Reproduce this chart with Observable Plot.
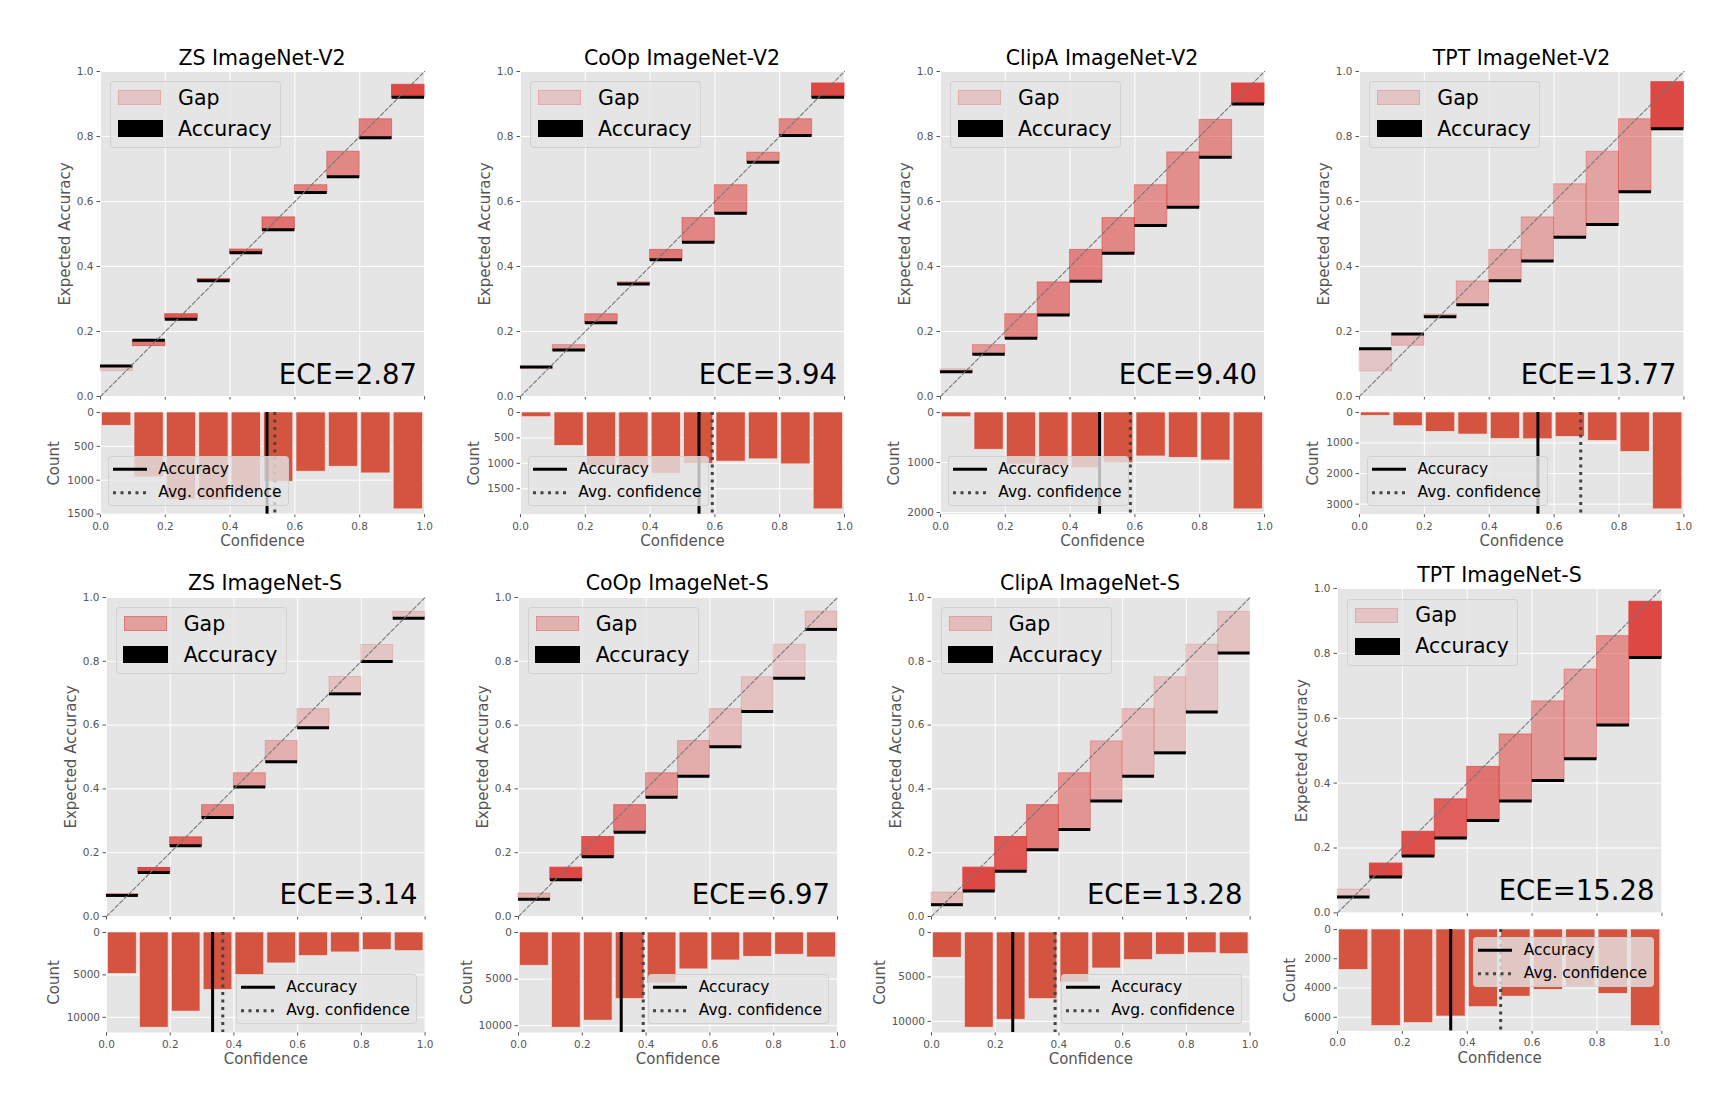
<!DOCTYPE html>
<html>
<head>
<meta charset="utf-8">
<script src="https://cdn.jsdelivr.net/npm/d3@7"></script>
<script src="https://cdn.jsdelivr.net/npm/@observablehq/plot@0.6"></script>
<style>
  body { margin: 0; background: #fff; }
  #fig { position: relative; width: 1736px; height: 1106px; background: #fff; overflow: hidden;
         font-family: "DejaVu Sans", sans-serif; }
  .title { position: absolute; width: 400px; text-align: center; font-size: 20.5px; line-height: 24px; color: #000; white-space: nowrap; }
  .leg { position: absolute; box-sizing: border-box; background: rgba(229,229,229,0.8);
         border: 1px solid rgba(204,204,204,0.8); border-radius: 4px; }
  .lt20 { position: absolute; font-size: 20.5px; line-height: 26px; color: #000; white-space: nowrap; }
  .lt15 { position: absolute; font-size: 15.5px; line-height: 23px; color: #000; white-space: nowrap; }
</style>
</head>
<body>
<div id="fig"></div>
<script>
// ---------------- data ----------------
const titles = ["ZS ImageNet-V2", "CoOp ImageNet-V2", "ClipA ImageNet-V2", "TPT ImageNet-V2",
                "ZS ImageNet-S", "CoOp ImageNet-S", "ClipA ImageNet-S", "TPT ImageNet-S"];
const eceValues = ["2.87", "3.94", "9.40", "13.77", "3.14", "6.97", "13.28", "15.28"];
const avgAccuracy   = [0.514, 0.551, 0.491, 0.550, 0.333, 0.322, 0.255, 0.349];
const avgConfidence = [0.538, 0.592, 0.586, 0.682, 0.365, 0.391, 0.388, 0.503];
const binEdges = [0, 0.1, 0.2, 0.3, 0.4, 0.5, 0.6, 0.7, 0.8, 0.9, 1.0];
const probTicks = [0, 0.2, 0.4, 0.6, 0.8, 1.0];
const diagonal = [0, 1];
const countTicks = [[0, 500, 1000, 1500], [0, 500, 1000, 1500], [0, 1000, 2000], [0, 1000, 2000, 3000],
                    [0, 5000, 10000], [0, 5000, 10000], [0, 5000, 10000], [0, 2000, 4000, 6000]];

const accZsV2   = [0.094, 0.173, 0.238, 0.356, 0.442, 0.513, 0.628, 0.676, 0.796, 0.921];
const confZsV2  = [0.078, 0.155, 0.253, 0.361, 0.452, 0.551, 0.650, 0.753, 0.853, 0.959];
const countZsV2 = [197, 959, 1290, 1300, 1180, 1023, 875, 802, 900, 1431];

const accCoopV2   = [0.091, 0.143, 0.227, 0.346, 0.421, 0.475, 0.564, 0.721, 0.803, 0.921];
const confCoopV2  = [0.084, 0.158, 0.253, 0.351, 0.451, 0.549, 0.650, 0.750, 0.853, 0.963];
const countCoopV2 = [92, 658, 1050, 1100, 1204, 1010, 967, 921, 1020, 1905];

const accClipaV2   = [0.076, 0.130, 0.179, 0.251, 0.355, 0.441, 0.526, 0.582, 0.736, 0.900];
const confClipaV2  = [0.084, 0.158, 0.253, 0.351, 0.451, 0.549, 0.650, 0.751, 0.851, 0.963];
const countClipaV2 = [94, 745, 1040, 1080, 1114, 1013, 879, 906, 960, 1935];

const accTptV2   = [0.147, 0.192, 0.245, 0.282, 0.356, 0.417, 0.490, 0.529, 0.630, 0.824];
const confTptV2  = [0.077, 0.156, 0.252, 0.354, 0.451, 0.551, 0.653, 0.753, 0.853, 0.967];
const countTptV2 = [110, 449, 635, 723, 865, 876, 799, 931, 1292, 3170];

const accZsS   = [0.066, 0.138, 0.222, 0.310, 0.406, 0.485, 0.592, 0.698, 0.799, 0.935];
const confZsS  = [0.070, 0.152, 0.248, 0.349, 0.449, 0.550, 0.650, 0.751, 0.851, 0.955];
const countZsS = [4900, 11230, 9330, 6780, 5020, 3650, 2780, 2350, 2080, 2200];

const accCoopS   = [0.054, 0.115, 0.187, 0.264, 0.374, 0.440, 0.532, 0.643, 0.747, 0.900];
const confCoopS  = [0.072, 0.153, 0.249, 0.349, 0.449, 0.550, 0.650, 0.750, 0.852, 0.956];
const countCoopS = [3570, 10220, 9460, 7140, 5460, 3960, 3000, 2610, 2390, 2680];

const accClipaS   = [0.037, 0.080, 0.142, 0.209, 0.273, 0.362, 0.440, 0.513, 0.641, 0.826];
const confClipaS  = [0.075, 0.153, 0.249, 0.349, 0.449, 0.549, 0.650, 0.750, 0.852, 0.955];
const countClipaS = [2850, 10720, 9830, 7500, 5620, 4050, 3110, 2510, 2330, 2440];

const accTptS   = [0.049, 0.111, 0.175, 0.231, 0.285, 0.345, 0.408, 0.475, 0.579, 0.787];
const confTptS  = [0.072, 0.152, 0.250, 0.350, 0.450, 0.550, 0.652, 0.750, 0.853, 0.959];
const countTptS = [2770, 6600, 6400, 5950, 5310, 4590, 4130, 3900, 4400, 6600];

const accList   = [accZsV2, accCoopV2, accClipaV2, accTptV2, accZsS, accCoopS, accClipaS, accTptS];
const confList  = [confZsV2, confCoopV2, confClipaV2, confTptV2, confZsS, confCoopS, confClipaS, confTptS];
const countList = [countZsV2, countCoopV2, countClipaV2, countTptV2, countZsS, countCoopS, countClipaS, countTptS];

// ---------------- layout (frame positions in page pixels) ----------------
const layout = [
  {x0: 100,    x1: 424,    t0: 70.7,  t1: 395.7, h0: 412.3, h1: 514,    leg: "ll", countDx: -46, titleUp: 12.4},
  {x0: 520,    x1: 844,    t0: 70.7,  t1: 395.7, h0: 412.3, h1: 514,    leg: "ll", countDx: -46, titleUp: 12.4},
  {x0: 940,    x1: 1264,   t0: 70.7,  t1: 395.7, h0: 412.3, h1: 514,    leg: "ll", countDx: -46, titleUp: 12.4},
  {x0: 1359.3, x1: 1683.7, t0: 70.7,  t1: 395.7, h0: 412.3, h1: 514,    leg: "ll", countDx: -46, titleUp: 12.4},
  {x0: 105.7,  x1: 424.3,  t0: 596.7, t1: 915.7, h0: 931.7, h1: 1031.7, leg: "lr", countDx: -52, titleUp: 13.4},
  {x0: 517.7,  x1: 836.7,  t0: 596.7, t1: 915.7, h0: 931.7, h1: 1031.7, leg: "lr", countDx: -51, titleUp: 13.4},
  {x0: 930.7,  x1: 1249.3, t0: 596.7, t1: 915.7, h0: 931.7, h1: 1031.7, leg: "lr", countDx: -51, titleUp: 13.4},
  {x0: 1337.3, x1: 1661.7, t0: 588.3, t1: 912.7, h0: 929.3, h1: 1030.7, leg: "ur", countDx: -47, titleUp: 13.3}
];

const ML = 64, MR = 12, MT = 12, MB = 12, HMT = 2, HMB = 50;
const GAP_RGB = "222,72,68";
const HIST_COLOR = "#D45440";
const gapColor = a => `rgba(${GAP_RGB},${a.toFixed(3)})`;
const baseStyle = {fontFamily: "DejaVu Sans", fontSize: "10.5px", color: "#555",
                   background: "transparent", overflow: "visible"};

const fig = document.getElementById("fig");

function place(el, left, top) {
  el.style.position = "absolute";
  el.style.left = left + "px";
  el.style.top = top + "px";
  fig.appendChild(el);
}

titles.forEach((title, i) => {
  const L = layout[i];
  const acc = accList[i], conf = confList[i], count = countList[i];
  const cMin = d3.min(count), cMax = d3.max(count);
  const bins = acc.map((a, k) => ({
    lo: binEdges[k], hi: binEdges[k + 1], acc: a, conf: conf[k], count: count[k],
    alpha: 0.2 + 0.8 * (count[k] - cMin) / (cMax - cMin)
  }));
  const fw = L.x1 - L.x0, fh = L.t1 - L.t0, hh = L.h1 - L.h0;

  // ---- reliability diagram ----
  const top = Plot.plot({
    width: fw + ML + MR, height: fh + MT + MB,
    marginLeft: ML, marginRight: MR, marginTop: MT, marginBottom: MB,
    style: baseStyle,
    x: {domain: [0, 1], ticks: probTicks, tickFormat: () => "", tickSize: 3.5, label: null},
    y: {domain: [0, 1], ticks: probTicks, tickFormat: ".1f", tickSize: 3.5, tickPadding: 3.5, label: null},
    marks: [
      Plot.frame({fill: "#E5E5E5", stroke: "none"}),
      Plot.ruleX(probTicks, {stroke: "white", strokeWidth: 1}),
      Plot.ruleY(probTicks, {stroke: "white", strokeWidth: 1}),
      Plot.rect(bins, {x1: "lo", x2: "hi",
        y1: d => Math.min(d.acc, d.conf), y2: d => Math.max(d.acc, d.conf),
        fill: d => gapColor(d.alpha), stroke: d => gapColor(d.alpha), strokeWidth: 1}),
      Plot.ruleY(bins, {x1: "lo", x2: "hi", y: "acc", stroke: "black", strokeWidth: 3}),
      Plot.line(diagonal, {x: d => d, y: d => d, stroke: "#777", strokeWidth: 1.1, strokeDasharray: "4,2.2"}),
      Plot.text([`ECE=${eceValues[i]}`], {text: d => d, frameAnchor: "bottom-right", textAnchor: "end",
        lineAnchor: "bottom", dx: -7.5, dy: -12.8, fontSize: 27.5, fill: "black"}),
      Plot.text(["Expected Accuracy"], {text: d => d, frameAnchor: "left", rotate: -90, dx: -35,
        textAnchor: "middle", lineAnchor: "middle", fontSize: 15, fill: "#555"})
    ]
  });
  place(top, L.x0 - ML, L.t0 - MT);

  // ---- histogram ----
  const yMax = 1.05 * cMax;
  const hist = Plot.plot({
    width: fw + ML + MR, height: hh + HMT + HMB,
    marginLeft: ML, marginRight: MR, marginTop: HMT, marginBottom: HMB,
    style: baseStyle,
    x: {domain: [0, 1], ticks: probTicks, tickFormat: ".1f", tickSize: 3.5, tickPadding: 4.5, label: null},
    y: {domain: [0, yMax], reverse: true, ticks: countTicks[i], tickFormat: "d", tickSize: 3.5, tickPadding: 3, label: null},
    marks: [
      Plot.frame({fill: "#E5E5E5", stroke: "none"}),
      Plot.ruleX(probTicks, {stroke: "white", strokeWidth: 1}),
      Plot.ruleY(countTicks[i], {stroke: "white", strokeWidth: 1}),
      Plot.rect(bins, {x1: "lo", x2: "hi", y1: 0, y2: "count", insetLeft: 1.6, insetRight: 1.6,
        fill: HIST_COLOR, stroke: "#EEEEEE", strokeWidth: 0.8, strokeOpacity: 0.8}),
      Plot.ruleX([avgAccuracy[i]], {stroke: "black", strokeWidth: 3}),
      Plot.ruleX([avgConfidence[i]], {stroke: "#444", strokeWidth: 3, strokeDasharray: "3,4.5"}),
      Plot.text(["Count"], {text: d => d, frameAnchor: "left", rotate: -90, dx: L.countDx,
        textAnchor: "middle", lineAnchor: "middle", fontSize: 15, fill: "#555"}),
      Plot.text(["Confidence"], {text: d => d, frameAnchor: "bottom", dy: 27,
        textAnchor: "middle", lineAnchor: "middle", fontSize: 15, fill: "#555"})
    ]
  });
  place(hist, L.x0 - ML, L.h0 - HMT);

  // ---- title ----
  const t = document.createElement("div");
  t.className = "title";
  t.textContent = title;
  place(t, (L.x0 + L.x1) / 2 - 200, L.t0 - L.titleUp - 12);

  // ---- reliability legend ----
  const lg = document.createElement("div");
  lg.className = "leg";
  lg.style.width = "171px"; lg.style.height = "67px";
  const c0 = gapColor(bins[0].alpha);
  lg.innerHTML =
    `<div style="position:absolute;left:7px;top:8px;width:43px;height:15px;box-sizing:border-box;background:${c0};border:1px solid ${c0}"></div>` +
    `<div class="lt20" style="left:67px;top:2.5px">Gap</div>` +
    `<div style="position:absolute;left:6.5px;top:38px;width:45px;height:17px;background:#000"></div>` +
    `<div class="lt20" style="left:67px;top:33.5px">Accuracy</div>`;
  place(lg, L.x0 + 10, L.t0 + 10.5);

  // ---- histogram legend ----
  const hl = document.createElement("div");
  hl.className = "leg";
  const HW = 181, HH = 50;
  hl.style.width = HW + "px"; hl.style.height = HH + "px";
  hl.innerHTML =
    `<svg style="position:absolute;left:4px;top:0" width="36" height="48">` +
    `<line x1="0" x2="34" y1="12.3" y2="12.3" stroke="#000" stroke-width="3"/>` +
    `<line x1="0" x2="34" y1="35.7" y2="35.7" stroke="#444" stroke-width="3" stroke-dasharray="3,4.5"/></svg>` +
    `<div class="lt15" style="left:49.5px;top:0.8px">Accuracy</div>` +
    `<div class="lt15" style="left:49.5px;top:24.2px">Avg. confidence</div>`;
  let hx, hy;
  if (L.leg === "ll") { hx = L.x0 + 7.7; hy = L.h1 - 8 - HH; }
  else if (L.leg === "lr") { hx = L.x1 - 7.5 - HW; hy = L.h1 - 7.5 - HH; }
  else { hx = L.x1 - 7.5 - HW; hy = L.h0 + 8; }
  place(hl, hx, hy);
});
</script>
</body>
</html>
